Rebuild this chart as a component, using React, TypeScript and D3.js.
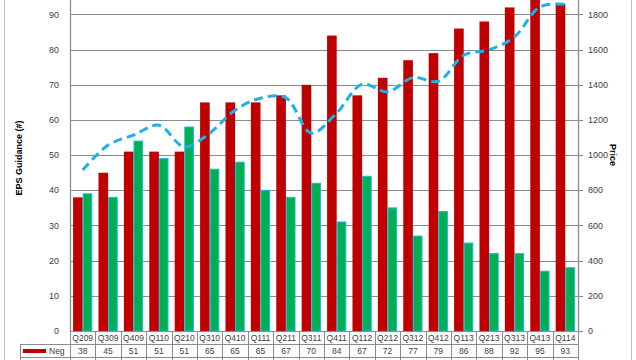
import React from "react";
import * as d3 from "d3";

const categories = ["Q209","Q309","Q409","Q110","Q210","Q310","Q410","Q111","Q211","Q311","Q411","Q112","Q212","Q312","Q412","Q113","Q213","Q313","Q413","Q114"];
const negValues = [38,45,51,51,51,65,65,65,67,70,84,67,72,77,79,86,88,92,95,93];
const posValues = [39,38,54,49,58,46,48,40,38,42,31,44,35,27,34,25,22,22,17,18];
const priceValues = [915,1057,1114,1170,1047,1125,1256,1324,1326,1125,1240,1403,1360,1441,1420,1568,1600,1672,1843,1858];
const leftTicks = [0,10,20,30,40,50,60,70,80,90];
const rightTicks = [0,200,400,600,800,1000,1200,1400,1600,1800];

const W = 636, H = 360;
const L = 70, R = 578, Y0 = 331, Ytop = -20.7;
const FONT = "'Liberation Sans', Arial, sans-serif";
const GRID = "#8c8c8c";
const TXT = "#404040";

export default function App() {
  const x = d3.scaleBand<string>().domain(categories).range([L, R]).paddingInner(0).paddingOuter(0);
  const bw = x.bandwidth();
  const xs = d3.scaleBand<string>().domain(["neg", "pos"]).range([0, bw]).paddingInner(0).paddingOuter(0.32);
  const y = d3.scaleLinear().domain([0, 100]).range([Y0, Ytop]);
  const yp = d3.scaleLinear().domain([0, 2000]).range([Y0, Ytop]);
  const line = d3.line<number>()
    .x((_, i) => (x(categories[i]) as number) + bw / 2)
    .y((d) => yp(d))
    .curve(d3.curveCatmullRom.alpha(0.5));

  const rowTop = [331, 344, 357];
  const rowH = 13;

  return (
    <svg width={W} height={H} style={{ position: "fixed", left: 0, top: 0, display: "block", background: "#fff" }}>
      {/* outer chart border */}
      <line x1={4.5} y1={0} x2={4.5} y2={H} stroke="#bfbfbf" />
      <line x1={631.5} y1={0} x2={631.5} y2={H} stroke="#bfbfbf" />

      {/* gridlines */}
      {leftTicks.map((t) => (
        <line key={"g" + t} x1={L} x2={R} y1={Math.round(y(t)) + 0.5} y2={Math.round(y(t)) + 0.5} stroke={GRID} strokeWidth={1.2} />
      ))}
      {/* left axis labels */}
      {leftTicks.map((t) => (
        <text key={"l" + t} x={59} y={y(t)} dy="0.35em" textAnchor="end" fontFamily={FONT} fontSize={9} fill={TXT}>{t}</text>
      ))}
      {/* right axis ticks and labels */}
      {rightTicks.map((t) => (
        <g key={"r" + t}>
          <line x1={R} x2={R + 5} y1={Math.round(yp(t)) + 0.5} y2={Math.round(yp(t)) + 0.5} stroke={GRID} strokeWidth={1.2} />
          <text x={588} y={yp(t)} dy="0.35em" textAnchor="start" fontFamily={FONT} fontSize={9} fill={TXT}>{t}</text>
        </g>
      ))}

      {/* bars */}
      {categories.map((c, i) => (
        <g key={"b" + c}>
          <rect x={(x(c) as number) + (xs("neg") as number)} y={y(negValues[i])} width={xs.bandwidth()} height={Y0 - y(negValues[i])} fill="#c00000" />
          <rect x={(x(c) as number) + (xs("pos") as number) + 0.5} y={y(posValues[i])} width={xs.bandwidth() - 1} height={Y0 - y(posValues[i])} fill="#00b050" stroke="#1cb4f0" strokeWidth={1} />
        </g>
      ))}

      {/* price line */}
      <path d={line(priceValues) || ""} fill="none" stroke="#1fb0ec" strokeWidth={3} strokeDasharray="9,5" />

      {/* axes lines */}
      <line x1={L + 0.5} x2={L + 0.5} y1={0} y2={Y0} stroke={GRID} strokeWidth={1.3} />
      <line x1={R + 0.5} x2={R + 0.5} y1={0} y2={Y0} stroke={GRID} strokeWidth={1.3} />

      {/* axis titles */}
      <text transform={`translate(22,158) rotate(-90)`} textAnchor="middle" fontFamily={FONT} fontSize={9} fontWeight="bold" fill="#000">EPS Guidance (#)</text>
      <text transform={`translate(610,155) rotate(90)`} textAnchor="middle" fontFamily={FONT} fontSize={9} fontWeight="bold" fill="#000">Price</text>

      {/* data table */}
      <g>
        <line x1={L} x2={R} y1={rowTop[0] + 0.5} y2={rowTop[0] + 0.5} stroke={GRID} />
        <line x1={20} x2={R} y1={rowTop[1] + 0.5} y2={rowTop[1] + 0.5} stroke={GRID} />
        <line x1={20} x2={R} y1={rowTop[2] + 0.5} y2={rowTop[2] + 0.5} stroke={GRID} />
        <line x1={20.5} x2={20.5} y1={rowTop[1]} y2={H} stroke={GRID} />
        {categories.map((c) => (
          <line key={"v" + c} x1={Math.round(x(c) as number) + 0.5} x2={Math.round(x(c) as number) + 0.5} y1={rowTop[0]} y2={H} stroke={GRID} />
        ))}
        <line x1={R + 0.5} x2={R + 0.5} y1={rowTop[0]} y2={H} stroke={GRID} />
        {categories.map((c) => (
          <text key={"c" + c} x={(x(c) as number) + bw / 2} y={rowTop[0] + rowH / 2 + 0.5} dy="0.35em" textAnchor="middle" fontFamily={FONT} fontSize={8.5} fill={TXT}>{c}</text>
        ))}
        <rect x={23} y={349} width={23} height={4} fill="#c00000" />
        <text x={49} y={rowTop[1] + rowH / 2 + 0.5} dy="0.35em" fontFamily={FONT} fontSize={8.5} fill={TXT}>Neg</text>
        {categories.map((c, i) => (
          <text key={"n" + c} x={(x(c) as number) + bw / 2} y={rowTop[1] + rowH / 2 + 0.5} dy="0.35em" textAnchor="middle" fontFamily={FONT} fontSize={8.5} fill={TXT}>{negValues[i]}</text>
        ))}
      </g>
    </svg>
  );
}
